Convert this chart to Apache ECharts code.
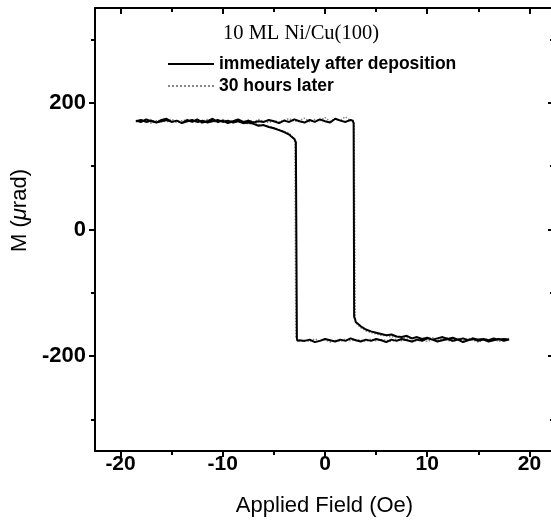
<!DOCTYPE html>
<html>
<head>
<meta charset="utf-8">
<title>10 ML Ni/Cu(100)</title>
<script src="https://cdn.jsdelivr.net/npm/echarts@6/dist/echarts.min.js"></script>
<style>
  html, body { margin: 0; padding: 0; background: #fff; }
  #chart { width: 551px; height: 520px; }
</style>
</head>
<body>
<div id="chart"></div>
<script>
// tick positions
const xMajorTicks = [-20, -10, 0, 10, 20]
const xMinorTicks = [-15, -5, 5, 15]
const yMajorTicks = [-200, 0, 200]
const yMinorTicks = [-300, -100, 100, 300]

// field sweep from negative to positive (upper branch)
const fieldUp = [-18.5, -18, -17.5, -17, -16.5, -16, -15.5, -15, -14.5, -14, -13.5, -13, -12.5, -12, -11.5, -11, -10.5, -10, -9.5, -9,
  -8.5, -8, -7.5, -7, -6.5, -6, -5.5, -5, -4.5, -4, -3.5, -3, -2.5, -2, -1.5, -1, -0.5, 0, 0.5, 1, 1.5, 2, 2.5,
  2.7, 2.8, 2.85, 2.95, 3.0, 3.3,
  3.5, 4, 4.5, 5, 5.5, 6, 6.5, 7, 7.5, 8, 8.5, 9, 9.5, 10, 10.5, 11, 11.5, 12, 12.5, 13, 13.5, 14, 14.5, 15, 15.5, 16, 16.5, 17, 17.5, 18]
// field sweep from positive to negative (lower branch)
const fieldDown = [18, 17.5, 17, 16.5, 16, 15.5, 15, 14.5, 14, 13.5, 13, 12.5, 12, 11.5, 11, 10.5, 10, 9.5, 9, 8.5,
  8, 7.5, 7, 6.5, 6, 5.5, 5, 4.5, 4, 3.5, 3, 2.5, 2, 1.5, 1, 0.5, 0, -0.5, -1, -1.5, -2, -2.5,
  -2.7, -2.75, -2.85, -2.95, -3.0, -3.3,
  -3.5, -4, -4.5, -5, -5.5, -6, -6.5, -7, -7.5, -8, -8.5, -9, -9.5, -10, -10.5, -11, -11.5, -12, -12.5, -13, -13.5, -14,
  -14.5, -15, -15.5, -16, -16.5, -17, -17.5, -18, -18.5]

// immediately after deposition
const freshUp = [172, 170, 174, 171, 169, 173, 175, 170, 172, 168, 173, 170, 174, 169, 171, 175, 170, 172, 168, 171,
  174, 170, 172, 169, 171, 170, 173, 171, 168, 172, 170, 174, 171, 169, 173, 170, 174, 171, 169, 175, 172, 170, 173,
  172, 168, -138, -142, -146, -150,
  -153, -158, -161, -163, -165, -167, -166, -169, -170, -168, -172, -170, -173, -171, -174, -172, -170, -173, -171, -174,
  -172, -175, -172, -174, -173, -175, -172, -174, -173, -174]
const freshDown = [-174, -176, -173, -175, -177, -174, -176, -173, -175, -178, -174, -176, -173, -175, -177, -174, -172, -176, -174, -177,
  -175, -173, -176, -174, -178, -175, -173, -176, -174, -177, -175, -172, -176, -174, -177, -175, -173, -176, -178, -174, -176, -175,
  -176, -172, 138, 141, 143, 147,
  150, 154, 157, 160, 162, 165, 164, 167, 169, 168, 171, 169, 172, 170, 173, 171, 169, 172, 170, 173,
  171, 168, 172, 170, 173, 171, 169, 172, 170, 173, 171]

// 30 hours later
const agedUp = [170, 173, 171, 168, 172, 170, 174, 172, 169, 171, 174, 170, 172, 168, 173, 171, 169, 174, 170, 172,
  171, 168, 173, 170, 174, 171, 169, 172, 170, 173, 175, 171, 172, 176, 170, 174, 172, 177, 171, 175, 173, 178, 172,
  174, 171, 169, -140, -147, -152,
  -155, -160, -163, -165, -167, -168, -170, -169, -172, -171, -173, -170, -174, -172, -171, -175, -173, -171, -174, -172,
  -176, -173, -171, -175, -173, -174, -176, -172, -175, -173]
const agedDown = [-172, -175, -177, -173, -176, -174, -178, -175, -173, -176, -174, -177, -175, -172, -176, -174, -177, -173, -175, -178,
  -174, -176, -173, -177, -175, -174, -176, -173, -177, -175, -174, -176, -173, -177, -175, -178, -174, -176, -173, -177, -175, -176,
  -175, -174, -171, 137, 144, 148,
  152, 155, 158, 161, 163, 164, 166, 168, 167, 170, 172, 169, 171, 173, 170, 172, 174, 171, 169, 173,
  170, 172, 171, 174, 170, 172, 169, 173, 171, 170, 172]

function loop(up, down) {
  return fieldUp.map((f, i) => [f, up[i]]).concat(fieldDown.map((f, i) => [f, down[i]]))
}

const font = 'Liberation Sans, Arial, sans-serif'
const xMin = -22.5, xMax = 22.4
const yMin = -350, yMax = 350

function tickAxis(position, values, len, inside, showLine) {
  const isX = position === 'top' || position === 'bottom'
  return {
    type: 'value',
    position: position,
    min: isX ? xMin : yMin,
    max: isX ? xMax : yMax,
    axisLine: { show: showLine, onZero: false, lineStyle: { color: '#000', width: 2 } },
    axisTick: { show: true, inside: inside, length: len, customValues: values, lineStyle: { color: '#000', width: 2 } },
    axisLabel: { show: false },
    splitLine: { show: false }
  }
}

const chart = echarts.init(document.getElementById('chart'))

const xMain = tickAxis('bottom', xMajorTicks, 6, false, true)
xMain.axisLabel = { show: true, customValues: xMajorTicks, margin: 3, color: '#000', fontFamily: font, fontSize: 21, fontWeight: 'bold' }
xMain.name = 'Applied Field (Oe)'
xMain.nameLocation = 'middle'
xMain.nameGap = 44
xMain.nameTextStyle = { color: '#000', fontFamily: font, fontSize: 22 }

const yMain = tickAxis('left', yMajorTicks, 6, false, true)
yMain.axisLabel = { show: true, customValues: yMajorTicks, margin: 9, color: '#000', fontFamily: font, fontSize: 22, fontWeight: 'bold' }
yMain.name = 'M ({i|μ}rad)'
yMain.nameLocation = 'middle'
yMain.nameGap = 61
yMain.nameTextStyle = {
  color: '#000', fontFamily: font, fontSize: 22,
  padding: [0, 0, 0, 38],
  rich: { i: { fontStyle: 'italic', fontFamily: font, fontSize: 22, color: '#000' } }
}

const option = {
  animation: false,
  backgroundColor: '#fff',
  title: {
    text: '10 ML Ni/Cu(100)',
    left: 218,
    top: 18,
    textStyle: { color: '#000', fontFamily: 'Liberation Serif, Times New Roman, serif', fontSize: 20.5, fontWeight: 'normal' }
  },
  legend: {
    orient: 'vertical',
    left: 162,
    top: 50,
    itemWidth: 46,
    itemHeight: 14,
    itemGap: 4,
    itemStyle: { opacity: 0 },
    textStyle: { color: '#000', fontFamily: font, fontSize: 17.5, fontWeight: 'bold' },
    data: ['immediately after deposition', '30 hours later']
  },
  grid: { left: 95, right: -3, top: 8, bottom: 69, containLabel: false, outerBoundsMode: 'none' },
  xAxis: [
    xMain,
    tickAxis('bottom', xMinorTicks, 4, false, false),
    tickAxis('top', xMajorTicks, 6, true, true),
    tickAxis('top', xMinorTicks, 4, true, false)
  ],
  yAxis: [
    yMain,
    tickAxis('left', yMinorTicks, 4, false, false),
    tickAxis('right', yMajorTicks, 6, true, true),
    tickAxis('right', yMinorTicks, 4, true, false)
  ],
  series: [
    {
      name: 'immediately after deposition',
      type: 'line',
      xAxisIndex: 0,
      yAxisIndex: 0,
      symbol: 'none',
      z: 3,
      lineStyle: { color: '#000', width: 2 },
      itemStyle: { color: '#000' },
      data: loop(freshUp, freshDown)
    },
    {
      name: '30 hours later',
      type: 'line',
      xAxisIndex: 0,
      yAxisIndex: 0,
      symbol: 'none',
      z: 2,
      lineStyle: { color: '#888', width: 1.5, type: 'dotted' },
      itemStyle: { color: '#888' },
      data: loop(agedUp, agedDown)
    }
  ]
}
chart.setOption(option)
</script>
</body>
</html>
